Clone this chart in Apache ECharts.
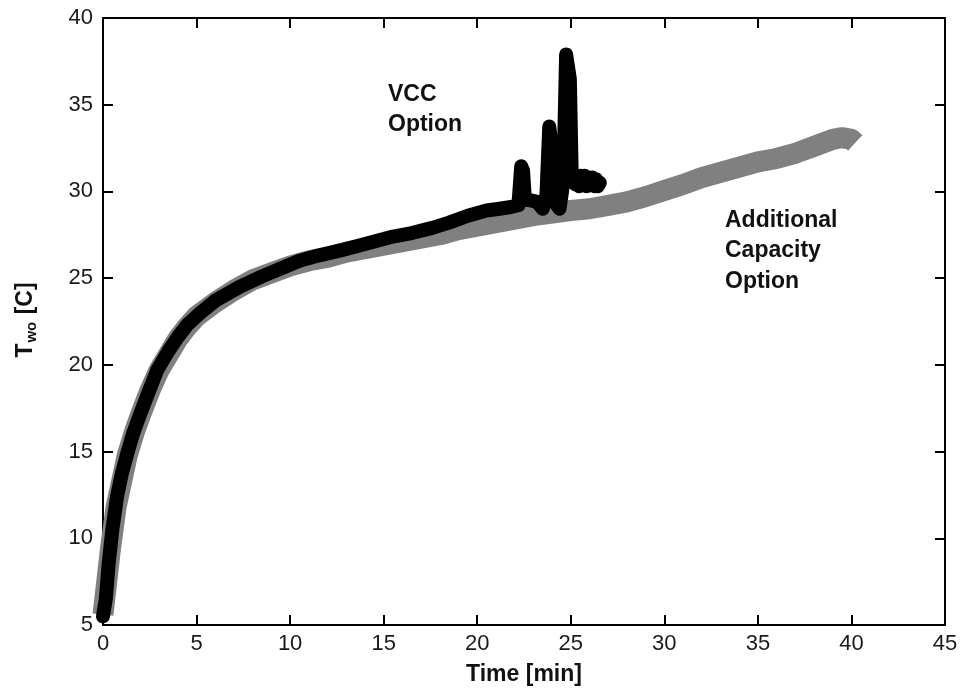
<!DOCTYPE html>
<html>
<head>
<meta charset="utf-8">
<script src="https://cdn.jsdelivr.net/npm/echarts@6/dist/echarts.min.js"></script>
<style>
  html, body { margin: 0; padding: 0; background: #fff; }
  #chart { width: 961px; height: 694px; }
</style>
</head>
<body>
<div id="chart"></div>
<script>
// Outlet water temperature over time for the two cooling options
const xTicks = [0, 5, 10, 15, 20, 25, 30, 35, 40, 45];
const yTicks = [5, 10, 15, 20, 25, 30, 35, 40];

// Additional Capacity Option (grey trace): time [min], temperature [C]
const capTime = [0, 0.2, 0.4, 0.7, 1.0, 1.3, 1.7, 2.0, 2.5, 3.0, 3.5, 4.0, 4.5, 5.0, 6.0, 7.0, 8.0, 9.0, 10, 11, 12, 13, 14, 15, 16, 17, 18, 19, 20, 21, 22, 23, 24, 25, 26, 27, 28, 29, 30, 31, 32, 33, 34, 35, 36, 37, 38, 38.5, 39, 39.5, 40, 40.2];
const capTemp = [5.6, 7.5, 9.4, 11.8, 13.3, 14.8, 16.2, 17.1, 18.5, 19.7, 20.6, 21.5, 22.2, 22.8, 23.6, 24.3, 24.9, 25.3, 25.7, 26.0, 26.2, 26.5, 26.7, 26.9, 27.1, 27.3, 27.5, 27.8, 28.0, 28.2, 28.4, 28.6, 28.75, 28.9, 29.0, 29.2, 29.4, 29.7, 30.05, 30.4, 30.8, 31.1, 31.4, 31.7, 31.9, 32.2, 32.6, 32.8, 33.0, 33.1, 33.0, 32.8];

// VCC Option (black trace)
const vccTime = [0, 0.15, 0.3, 0.5, 0.75, 1.0, 1.3, 1.6, 2.0, 2.5, 2.9, 3.5, 4.0, 4.5, 5.2, 6.0, 7.3, 8.5, 9.6, 10.5, 11.5, 12.7, 14.1, 15.5, 16.5, 17.6, 18.5, 19.5, 20.5, 21.2, 21.8, 22.2, 22.35, 22.45, 22.55, 22.8, 23.2, 23.5, 23.7, 23.85, 23.95, 24.05, 24.2, 24.4, 24.6, 24.75, 24.85, 24.95, 25.05, 25.15, 25.25, 25.35, 25.45, 25.55, 25.65, 25.75, 25.85, 25.95, 26.05, 26.15, 26.25, 26.35, 26.45, 26.55];
const vccTemp = [5.5, 6.5, 8.5, 10.5, 12.4, 13.7, 14.9, 16.0, 17.2, 18.6, 19.7, 20.8, 21.6, 22.3, 23.0, 23.7, 24.5, 25.1, 25.6, 26.0, 26.3, 26.6, 27.0, 27.4, 27.6, 27.9, 28.2, 28.6, 28.9, 29.0, 29.1, 29.2, 31.45, 31.2, 29.5, 29.5, 29.4, 29.0, 29.8, 33.75, 32.8, 30.0, 29.3, 29.0, 30.5, 37.9, 37.9, 36.5, 31.0, 30.9, 30.4, 30.9, 30.3, 30.9, 30.4, 30.9, 30.3, 30.8, 30.4, 30.8, 30.3, 30.7, 30.3, 30.5];

const capData = capTime.map((t, i) => [t, capTemp[i]]);
const vccData = vccTime.map((t, i) => [t, vccTemp[i]]);

const FONT = '"Liberation Sans", Arial, sans-serif';
const chart = echarts.init(document.getElementById('chart'), null, { renderer: 'canvas' });

const axisLineStyle = { color: '#000', width: 2 };
const tickStyle = { show: true, inside: true, length: 10, lineStyle: { color: '#000', width: 2 } };
const baseX = {
  type: 'value', min: 0, max: 45, interval: 5,
  axisLine: { show: true, onZero: false, lineStyle: axisLineStyle },
  axisTick: tickStyle,
  splitLine: { show: false }
};
const baseY = {
  type: 'value', min: 5, max: 40, interval: 5,
  axisLine: { show: true, onZero: false, lineStyle: axisLineStyle },
  axisTick: tickStyle,
  splitLine: { show: false }
};

chart.setOption({
  animation: false,
  backgroundColor: '#fff',
  grid: { left: 103, right: 16, top: 18, bottom: 69, containLabel: false },
  xAxis: [
    Object.assign({}, baseX, {
      position: 'bottom',
      axisLabel: { show: true, color: '#1a1a1a', fontSize: 22, fontFamily: FONT, margin: 8,
        formatter: v => xTicks.includes(v) ? String(v) : '' },
      name: 'Time [min]', nameLocation: 'middle', nameGap: 38,
      nameTextStyle: { color: '#111', fontSize: 23, fontWeight: 'bold', fontFamily: FONT }
    }),
    Object.assign({}, baseX, { position: 'top', axisLabel: { show: false } })
  ],
  yAxis: [
    Object.assign({}, baseY, {
      position: 'left',
      axisLabel: { show: true, color: '#1a1a1a', fontSize: 22, fontFamily: FONT, margin: 10,
        formatter: v => yTicks.includes(v) ? String(v) : '' }
    }),
    Object.assign({}, baseY, { position: 'right', axisLabel: { show: false } })
  ],
  series: [
    {
      name: 'Additional Capacity Option', type: 'line', data: capData,
      xAxisIndex: 0, yAxisIndex: 0, showSymbol: false, symbol: 'none', smooth: false,
      lineStyle: { color: '#808080', width: 21, cap: 'butt', join: 'round' },
      z: 2
    },
    {
      name: 'VCC Option', type: 'line', data: vccData,
      xAxisIndex: 0, yAxisIndex: 0, showSymbol: false, symbol: 'none', smooth: false,
      lineStyle: { color: '#000', width: 14, cap: 'round', join: 'round' },
      z: 3
    }
  ],
  graphic: [
    {
      type: 'text', x: 26, y: 320, rotation: Math.PI / 2,
      style: {
        text: '{t|T}{s|wo}{t| [C]}', align: 'center', verticalAlign: 'middle',
        rich: {
          t: { fontSize: 23, fontWeight: 'bold', fontFamily: FONT, fill: '#111' },
          s: { fontSize: 15, fontWeight: 'bold', fontFamily: FONT, fill: '#111', padding: [12, 1, 0, 1] }
        }
      }
    },
    {
      type: 'text', left: 388, top: 80,
      style: { text: 'VCC\nOption', fontSize: 23, fontWeight: 'bold', fontFamily: FONT, fill: '#111', lineHeight: 30 }
    },
    {
      type: 'text', left: 725, top: 205,
      style: { text: 'Additional\nCapacity\nOption', fontSize: 23, fontWeight: 'bold', fontFamily: FONT, fill: '#111', lineHeight: 30.5 }
    }
  ]
});
</script>
</body>
</html>
